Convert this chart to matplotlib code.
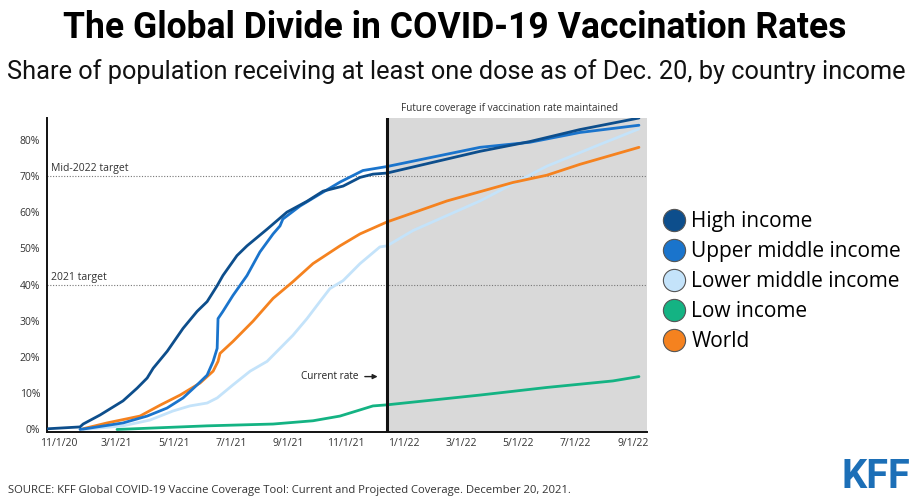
import matplotlib.pyplot as plt
from matplotlib.lines import Line2D
import numpy as np

# months counted from the first tick on the axis
tick_labels = ['11/1/20', '3/1/21', '5/1/21', '7/1/21', '9/1/21', '11/1/21',
               '1/1/22', '3/1/22', '5/1/22', '7/1/22', '9/1/22']
tick_months = [0, 2, 4, 6, 8, 10, 12, 14, 16, 18, 20]
current_month = 11.43

high_x = [-0.38, 0.73, 0.84, 1.43, 2.23, 2.72, 3.07, 3.28, 3.77, 4.32, 4.81, 5.16, 5.51, 5.71,
          6.20, 6.55, 7.25, 7.94, 8.64, 9.20, 9.90, 10.49, 10.94, 11.43, 14.67, 16.41, 18.15, 20.21]
high_y = [0.2, 0.7, 1.5, 4.0, 7.9, 11.4, 14.2, 16.9, 21.6, 27.9, 32.6, 35.3, 39.7, 42.5,
          48.0, 50.7, 55.3, 60.0, 63.0, 65.8, 67.2, 69.6, 70.5, 70.8, 76.8, 79.5, 82.8, 86.0]

upper_x = [0.73, 1.08, 2.23, 3.07, 3.76, 4.32, 4.81, 5.16, 5.37, 5.51, 5.54, 5.71, 6.06, 6.55,
           7.00, 7.46, 7.70, 7.80, 8.40, 9.09, 9.79, 10.59, 11.43, 14.67, 16.41, 18.15, 20.21]
upper_y = [0.0, 0.4, 1.8, 3.7, 5.9, 8.7, 12.3, 15.0, 18.8, 22.4, 30.6, 32.6, 37.0, 42.5,
           49.0, 54.0, 56.2, 58.1, 61.7, 65.0, 68.3, 71.5, 72.6, 77.9, 79.3, 82.0, 84.0]

lower_x = [0.84, 2.23, 3.17, 3.97, 4.56, 5.16, 5.51, 6.06, 6.66, 7.25, 7.70, 8.15, 8.64, 9.09,
           9.44, 9.90, 10.49, 11.18, 11.43, 12.33, 14.67, 17.00, 18.85, 20.21]
lower_y = [0.0, 1.0, 2.6, 5.1, 6.5, 7.3, 8.7, 12.3, 16.1, 18.8, 22.4, 26.0, 30.6, 35.3,
           38.9, 41.1, 45.8, 50.4, 50.7, 54.9, 63.1, 72.7, 78.7, 83.0]

low_x = [2.02, 5.16, 7.46, 8.85, 9.79, 10.49, 10.94, 11.43, 14.67, 17.00, 19.30, 20.21]
low_y = [0.0, 1.0, 1.5, 2.4, 3.7, 5.4, 6.5, 6.8, 9.5, 11.6, 13.4, 14.6]

world_x = [0.84, 1.67, 2.82, 3.52, 4.22, 4.91, 5.37, 5.54, 5.61, 6.06, 6.76, 7.46, 8.15, 8.85,
           9.79, 10.49, 11.43, 13.52, 15.82, 17.00, 18.15, 20.21]
world_y = [0.2, 1.8, 3.7, 6.7, 9.5, 12.8, 16.1, 18.8, 21.0, 24.3, 29.9, 36.2, 40.8, 45.8,
           50.7, 54.0, 57.3, 63.1, 68.2, 70.2, 73.2, 77.9]

y_ticks = [0, 10, 20, 30, 40, 50, 60, 70, 80]
targets = [(70, 'Mid-2022 target'), (40, '2021 target')]

series = [
    ('High income', high_x, high_y, '#0d4e8c'),
    ('Upper middle income', upper_x, upper_y, '#1a74cc'),
    ('Lower middle income', lower_x, lower_y, '#c4e3fa'),
    ('Low income', low_x, low_y, '#14b383'),
    ('World', world_x, world_y, '#f5821f'),
]

plt.rcParams['font.family'] = ['Open Sans', 'DejaVu Sans']

fig = plt.figure(figsize=(9.1, 4.98), dpi=100)
ax = fig.add_axes([47 / 910, 66 / 498, 600 / 910, 314 / 498])

x_min, x_max = -0.42, 20.49
ax.set_xlim(x_min, x_max)
ax.set_ylim(-0.7, 86)

# projected period
ax.axvspan(current_month, x_max, color='#d9d9d9', lw=0, zorder=0)
ax.axvline(current_month, color='#111111', lw=2.2, zorder=4)

for level, label in targets:
    ax.axhline(level, color='#777777', lw=0.8, ls=(0, (1, 1.5)), zorder=1)
    ax.text(-0.28, level + 0.4, label, fontsize=7.5, color='#333333', va='bottom', ha='left')

draw_order = [2, 4, 3, 1, 0]
for i in draw_order:
    name, xs, ys, color = series[i]
    ax.plot(xs, ys, color=color, lw=2.0, solid_capstyle='round', zorder=3)

ax.set_xticks(tick_months)
ax.set_xticklabels(tick_labels)
ax.set_yticks(y_ticks)
ax.set_yticklabels([f'{v}%' for v in y_ticks])
ax.tick_params(length=0, labelsize=7.5, labelcolor='#333333', pad=4)
ax.tick_params(axis='y', pad=5)

for side in ['top', 'right']:
    ax.spines[side].set_visible(False)
for side in ['left', 'bottom']:
    ax.spines[side].set_color('#111111')
    ax.spines[side].set_linewidth(1.4)

ax.text((current_month + x_max) / 2 - 0.25, 88.7, 'Future coverage if vaccination rate maintained',
        fontsize=7.2, color='#333333', ha='center', va='center', clip_on=False)

ax.text(10.42, 14.6, 'Current rate', fontsize=7.2, color='#222222', ha='right', va='center')
ax.annotate('', xy=(11.2, 14.6), xytext=(10.56, 14.6),
            arrowprops=dict(arrowstyle='-|>', lw=1, color='#222222', mutation_scale=7))

handles = [Line2D([], [], ls='', marker='o', markersize=16, markerfacecolor=c,
                  markeredgecolor='#555555', markeredgewidth=0.8)
           for _, _, _, c in series]
fig.legend(handles, [s[0] for s in series], loc='upper left',
           bbox_to_anchor=(657 / 910, 1 - 211 / 498), frameon=False,
           fontsize=15, handletextpad=0.05, labelspacing=0.43, handlelength=1.6,
           borderaxespad=0, borderpad=0)

fig.text(0.5, 1 - 28 / 498, 'The Global Divide in COVID-19 Vaccination Rates',
         family='Roboto', fontweight='bold', fontsize=25.6, ha='center', va='center', color='#000000')
fig.text(456 / 910, 1 - 72 / 498,
         'Share of population receiving at least one dose as of Dec. 20, by country income',
         family='Roboto', fontsize=18.3, ha='center', va='center', color='#111111')

fig.text(8 / 910, 1 - 490 / 498,
         'SOURCE: KFF Global COVID-19 Vaccine Coverage Tool: Current and Projected Coverage. December 20, 2021.',
         fontsize=8.1, color='#333333', ha='left', va='center')
fig.text(910 / 910, 2 / 498, 'KFF', family='Roboto', fontweight='bold', fontsize=28.5,
         color='#1c6fb7', ha='right', va='bottom')

fig.savefig('out.png', dpi=100)
